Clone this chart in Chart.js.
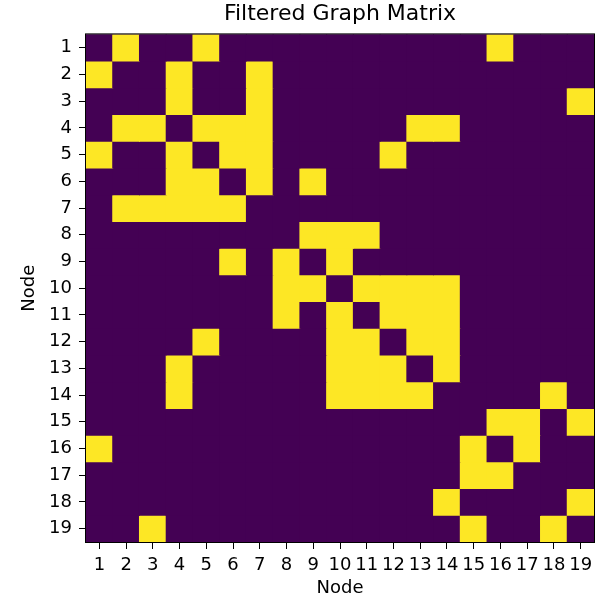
<!DOCTYPE html>
<html lang="en">
  <head>
    <meta charset="UTF-8" />
    <meta name="viewport" content="width=device-width, initial-scale=1.0" />
    <script src="https://cdn.jsdelivr.net/npm/chart.js@4.4.1/dist/chart.umd.min.js"></script>
    <title>Filtered Graph Matrix</title>
    <style>
      html, body { margin: 0; padding: 0; background: #fff; }
    </style>
  </head>
  <body>
    <canvas id="matrixChart" width="613" height="600"></canvas>
  </body>
  <script>
    const nodeLabels = [
      "1", "2", "3", "4", "5", "6", "7", "8", "9", "10",
      "11", "12", "13", "14", "15", "16", "17", "18", "19",
    ];

    // neighbours of each node that survive the filter (1-based node numbers)
    const neighbours = [
      [2, 5, 16],
      [1, 4, 7],
      [4, 7, 19],
      [2, 3, 5, 6, 7, 13, 14],
      [1, 4, 6, 7, 12],
      [4, 5, 7, 9],
      [2, 3, 4, 5, 6],
      [9, 10, 11],
      [6, 8, 10],
      [8, 9, 11, 12, 13, 14],
      [8, 10, 12, 13, 14],
      [5, 10, 11, 13, 14],
      [4, 10, 11, 12, 14],
      [4, 10, 11, 12, 13, 18],
      [16, 17, 19],
      [1, 15, 17],
      [15, 16],
      [14, 19],
      [3, 15, 18],
    ];

    // viridis end points for 0 and 1
    const offColor = "#440154";
    const onColor = "#fde725";

    const matrix = neighbours.map((row) =>
      nodeLabels.map((_, c) => (row.includes(c + 1) ? 1 : 0))
    );

    // one dataset per row; every cell is a floating bar spanning that row
    const datasets = matrix.map((row, r) => ({
      label: "Node " + nodeLabels[r],
      data: row.map(() => [r + 0.5, r + 1.5]),
      backgroundColor: row.map((v) => (v ? onColor : offColor)),
      borderWidth: 0,
      inflateAmount: 0.5,
      barPercentage: 1,
      categoryPercentage: 1,
      grouped: false,
    }));

    // fill the plot with the "0" colour first so cell seams don't show,
    // then put a black frame round it afterwards
    const framePlugin = {
      id: "frame",
      beforeDatasetsDraw(chart) {
        const { ctx, chartArea: a } = chart;
        ctx.save();
        ctx.fillStyle = offColor;
        ctx.fillRect(a.left, a.top, a.width, a.height);
        ctx.restore();
      },
      afterDatasetsDraw(chart) {
        const { ctx, chartArea: a } = chart;
        ctx.save();
        ctx.strokeStyle = "#000";
        ctx.lineWidth = 1;
        ctx.strokeRect(a.left - 0.5, a.top - 0.5, a.width + 1, a.height + 1);
        ctx.restore();
      },
    };

    Chart.defaults.font.family = "DejaVu Sans";
    Chart.defaults.color = "#000";

    new Chart("matrixChart", {
      type: "bar",
      data: { labels: nodeLabels, datasets: datasets },
      plugins: [framePlugin],
      options: {
        responsive: false,
        animation: false,
        layout: { padding: { left: 0, right: 19, top: 0, bottom: 0 } },
        plugins: {
          legend: { display: false },
          tooltip: { enabled: false },
          title: {
            display: true,
            text: "Filtered Graph Matrix",
            fullSize: false,
            font: { size: 22, weight: "normal" },
            color: "#000",
            padding: { top: 1, bottom: 7 },
          },
        },
        scales: {
          x: {
            type: "category",
            grid: {
              offset: false,
              drawOnChartArea: false,
              tickLength: 7,
              color: "#000",
            },
            border: { display: false },
            ticks: { font: { size: 18 }, padding: 6, maxRotation: 0, autoSkip: false },
            title: {
              display: true,
              text: "Node",
              font: { size: 18 },
              padding: { top: 0, bottom: 1 },
            },
            afterFit: (s) => { s.height = 58; },
          },
          y: {
            type: "linear",
            min: 0.5,
            max: 19.5,
            reverse: true,
            afterBuildTicks: (s) => {
              s.ticks = nodeLabels.map((_, i) => ({ value: i + 1 }));
            },
            grid: {
              drawOnChartArea: false,
              tickLength: 7,
              color: "#000",
            },
            border: { display: false },
            ticks: {
              font: { size: 18 },
              padding: 7,
              callback: (v) => nodeLabels[v - 1],
            },
            title: {
              display: true,
              text: "Node",
              font: { size: 18 },
              padding: { top: 19, bottom: 0 },
            },
            afterFit: (s) => { s.width = 86; },
          },
        },
      },
    });
  </script>
</html>
